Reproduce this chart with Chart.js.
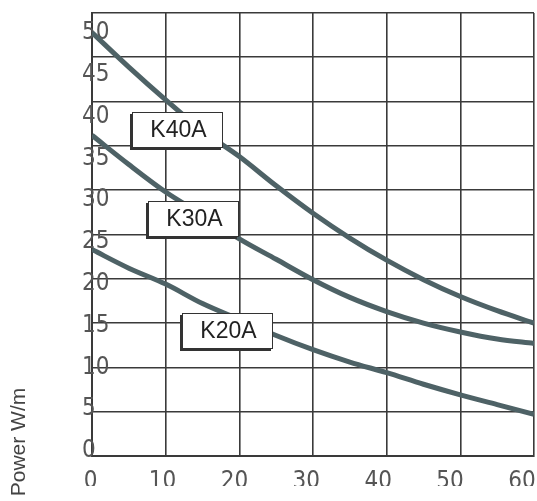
<!DOCTYPE html>
<html><head><meta charset="utf-8">
<script src="https://cdn.jsdelivr.net/npm/chart.js@4"></script>
<style>html,body{margin:0;padding:0;background:#fff}#wrap{width:537px;height:501px}</style>
</head><body><div id="wrap"><canvas id="c" width="537" height="501"></canvas></div>
<script>
const xValues = [0,5,10,15,20,25,30,35,40,45,50,55,60];
const k40a = [47.8,43.9,40.2,36.7,33.8,30.5,27.4,24.6,22.1,19.9,18.0,16.4,15.0];
const k30a = [36.2,32.9,29.8,27.2,24.5,22.2,19.9,17.9,16.3,15.0,14.0,13.2,12.7];
const k20a = [23.3,21.2,19.4,17.2,15.4,13.6,12.0,10.6,9.4,8.1,6.9,5.8,4.7];
const seriesNames = ['K40A','K30A','K20A'];
const xTickLabels = [0,10,20,30,40,50,60];
const yTickLabels = [0,5,10,15,20,25,30,35,40,45,50];
const yTitle = 'Power W/m';
// label boxes: name, anchor in data coordinates
const labelX = [11.6,13.8,18.4];
const labelY = [36.8,26.75,14.1];

const lineColor = '#4e6266';
const gridColor = '#3a3a3a';
const tickFont = {family:"'Liberation Sans Narrow','DejaVu Sans Condensed',sans-serif", size:24};

const labelPlugin = {
  id:'labelBoxes',
  afterDatasetsDraw(chart){
    const ctx = chart.ctx, xs = chart.scales.x, ys = chart.scales.y;
    const w = 91, h = 36;
    ctx.save();
    seriesNames.forEach((name,i)=>{
      const cx = xs.getPixelForValue(labelX[i]);
      const cy = ys.getPixelForValue(labelY[i]);
      const l = Math.round(cx - w/2), t = Math.round(cy - h/2);
      ctx.fillStyle = '#333';
      ctx.fillRect(l-2, t+2, w, h);
      ctx.fillStyle = '#fff';
      ctx.fillRect(l, t, w, h);
      ctx.strokeStyle = '#333';
      ctx.lineWidth = 1;
      ctx.strokeRect(l+0.5, t+0.5, w-1, h-1);
      ctx.fillStyle = '#222';
      ctx.font = "23px 'Liberation Sans', Arial, sans-serif";
      ctx.textAlign = 'center';
      ctx.textBaseline = 'middle';
      ctx.fillText(name, l + w/2 + 1, t + h/2 + 1);
    });
    ctx.restore();
  }
};
const yTitlePlugin = {
  id:'yTitle',
  afterDraw(chart){
    const ctx = chart.ctx;
    ctx.save();
    ctx.translate(19, 442);
    ctx.rotate(-Math.PI/2);
    ctx.fillStyle = '#444';
    ctx.font = "21px 'Liberation Sans', Arial, sans-serif";
    ctx.textAlign = 'center';
    ctx.textBaseline = 'middle';
    ctx.fillText(yTitle, 0, 0);
    ctx.restore();
  }
};

const mk = (name, data) => ({
  label:name,
  data: xValues.map((x,i)=>({x, y:data[i]})),
  borderColor: lineColor, borderWidth: 5, pointRadius: 0,
  cubicInterpolationMode:'monotone', fill:false
});

new Chart(document.getElementById('c'), {
  type:'line',
  data:{ datasets:[mk(seriesNames[0],k40a), mk(seriesNames[1],k30a), mk(seriesNames[2],k20a)] },
  options:{
    responsive:false, animation:false, devicePixelRatio:1,
    layout:{padding:{left:92, right:3, top:13, bottom:15}},
    plugins:{legend:{display:false}, tooltip:{enabled:false}},
    scales:{
      x:{type:'linear', position:'bottom', min:0, max:60,
         ticks:{display:false, stepSize:10},
         grid:{color:gridColor, lineWidth:1.6, drawTicks:false},
         border:{display:true, color:gridColor, width:2}},
      y:{type:'linear', position:'left', min:0, max:50,
         ticks:{display:false, stepSize:5},
         grid:{color:gridColor, lineWidth:1.6, drawTicks:false},
         border:{display:true, color:gridColor, width:2}},
      xl:{type:'linear', position:'bottom', min:0.19, max:61.67,
         afterBuildTicks:(s)=>{ s.ticks = xTickLabels.map(v=>({value:v})); },
         afterFit:(s)=>{ s.height = 30; s.paddingLeft = 0; s.paddingRight = 0; },
         ticks:{font:tickFont, color:'#555', padding:11, maxRotation:0, autoSkip:false},
         grid:{display:false, drawTicks:false, tickLength:0},
         border:{display:false}},
      yl:{type:'linear', position:'left', min:-0.6, max:52.39,
         afterBuildTicks:(s)=>{ s.ticks = yTickLabels.map(v=>({value:v})); },
         afterFit:(s)=>{ s.width = 0; s.paddingTop = 0; s.paddingBottom = 0; },
         ticks:{font:tickFont, color:'#555', mirror:true, padding:-10, crossAlign:'near', autoSkip:false},
         grid:{display:false, drawTicks:false, tickLength:0},
         border:{display:false}}
    }
  },
  plugins:[labelPlugin, yTitlePlugin]
});
</script></body></html>
